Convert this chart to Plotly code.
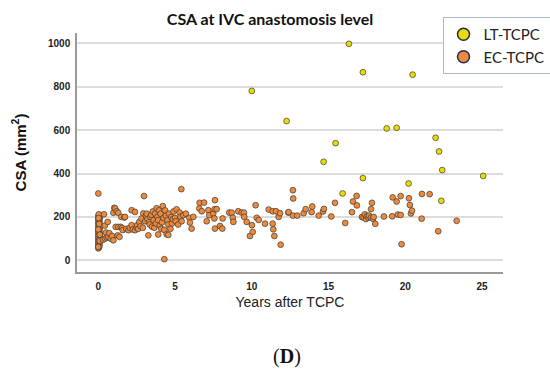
import plotly.graph_objects as go

# LT-TCPC (yellow) points: years after TCPC, CSA (mm^2)
lt_years = [10.0, 12.27, 16.33, 17.24, 20.48, 18.79, 19.44, 21.98, 15.46, 22.2,
            22.41, 25.08, 14.68, 17.24, 15.92, 20.22, 22.35]
lt_csa = [781, 642, 998, 867, 856, 608, 611, 565, 540, 502,
          416, 389, 454, 379, 308, 354, 274]

# EC-TCPC (orange) points as (years, CSA)
ec_points = [
    (0, 55), (0.05, 60), (0, 65), (0.08, 70), (0, 75), (0.04, 80), (0.1, 85), (0, 88),
    (0.06, 92), (0, 97), (0.12, 100), (0.03, 105), (0, 110), (0.07, 115), (0, 120),
    (0.1, 125), (0.02, 130), (0, 135), (0.05, 140), (0.09, 145), (0, 150), (0.04, 155),
    (0.11, 160), (0, 165), (0.06, 170), (0, 175), (0.08, 180), (0.02, 185), (0, 190),
    (0.1, 195), (0.05, 200), (0, 205), (0.07, 208), (0.03, 212), (0, 62), (0.09, 90),
    (0, 142), (0.05, 168), (0.1, 118), (0.02, 195), (0, 308),
    (0.3, 95), (0.37, 212), (0.42, 160), (0.44, 100), (0.5, 128), (0.55, 105), (0.61, 177),
    (0.65, 108), (0.72, 125), (0.8, 100), (0.9, 112), (0.98, 92), (0.98, 219), (1.04, 242),
    (1.1, 239), (1.13, 154), (1.2, 226), (1.26, 115), (1.3, 219), (1.3, 154), (1.38, 108),
    (1.46, 154), (1.5, 200), (1.55, 149), (1.59, 139), (1.69, 197), (1.74, 200), (1.82, 145),
    (1.96, 139), (2.05, 150), (2.17, 231), (2.17, 162), (2.25, 142), (2.39, 223), (2.39, 139),
    (2.5, 150), (2.54, 162), (2.6, 145), (2.67, 177), (2.75, 157), (2.82, 193), (2.9, 150),
    (2.93, 216), (2.98, 296),
    (3.05, 180), (3.1, 205), (3.15, 215), (3.2, 190), (3.26, 115), (3.3, 175), (3.35, 165),
    (3.4, 200), (3.45, 210), (3.5, 155), (3.55, 225), (3.6, 185), (3.65, 150), (3.7, 215),
    (3.75, 170), (3.8, 240), (3.85, 200), (3.9, 185), (3.9, 119), (3.95, 230), (4.0, 160),
    (4.05, 215), (4.1, 145), (4.15, 175), (4.2, 250), (4.25, 195), (4.3, 5), (4.3, 140),
    (4.35, 230), (4.4, 205), (4.45, 120), (4.5, 185), (4.56, 165), (4.56, 117), (4.6, 215),
    (4.7, 145), (4.75, 200), (4.8, 170), (4.85, 190), (4.9, 225), (5.0, 195), (5.05, 180),
    (5.1, 235), (5.2, 165), (5.3, 220), (5.35, 200), (5.41, 328), (5.43, 180), (5.54, 208),
    (5.7, 215),
    (5.93, 196), (5.97, 174), (6.08, 146), (6.19, 200), (6.58, 239), (6.6, 265), (6.74, 226),
    (6.89, 266), (7.06, 180), (7.17, 231), (7.23, 208), (7.49, 216), (7.56, 193), (7.58, 236),
    (7.6, 277), (7.6, 146), (7.71, 236), (7.93, 158), (8.08, 146), (8.1, 193), (8.53, 220),
    (8.69, 220), (8.76, 196), (8.8, 177), (9.12, 226), (9.34, 220), (9.49, 220), (9.51, 200),
    (9.67, 177), (9.88, 112), (10.01, 162), (10.06, 131), (10.25, 254), (10.32, 196),
    (10.45, 186),
    (10.86, 169), (11.1, 234), (11.36, 226), (11.36, 169), (11.4, 143), (11.47, 112),
    (11.58, 226), (11.75, 200), (11.84, 217), (11.88, 72), (12.38, 220), (12.4, 222),
    (12.68, 206), (12.96, 206), (12.68, 323), (12.7, 285), (13.38, 217), (13.51, 236),
    (13.9, 222), (13.94, 248), (14.36, 206), (14.64, 225), (14.7, 237), (15.18, 202),
    (15.42, 265), (16.09, 172), (16.53, 222), (16.59, 271), (16.83, 297), (16.85, 253),
    (17.18, 200), (17.29, 197), (17.37, 212), (17.44, 190), (17.5, 203), (17.6, 197),
    (17.64, 206), (17.77, 197), (17.77, 236), (17.83, 265), (17.9, 191), (17.94, 200),
    (18.05, 168), (18.61, 202), (19.15, 203),
    (19.18, 290), (19.44, 271), (19.7, 296), (19.76, 74), (19.52, 211), (19.7, 209),
    (20.24, 286), (20.3, 255), (20.37, 216), (20.44, 229), (21.07, 192), (21.09, 306),
    (21.59, 305), (22.15, 134), (23.35, 182),
]
ec_years = [p[0] for p in ec_points]
ec_csa = [p[1] for p in ec_points]

x_ticks = [0, 5, 10, 15, 20, 25]
y_ticks = [0, 200, 400, 600, 800, 1000]

YELLOW = "#E8DC00"
ORANGE = "#EF8A3A"
EDGE = "#3a3a3a"

fig = go.Figure()
fig.add_trace(go.Scatter(x=ec_years, y=ec_csa, mode="markers", showlegend=False,
                         marker=dict(size=5.8, color=ORANGE, line=dict(color=EDGE, width=0.7))))
fig.add_trace(go.Scatter(x=lt_years, y=lt_csa, mode="markers", showlegend=False,
                         marker=dict(size=5.8, color=YELLOW, line=dict(color=EDGE, width=0.7))))
# legend entries
fig.add_trace(go.Scatter(x=[None], y=[None], mode="markers", name="LT-TCPC",
                         marker=dict(size=12, color=YELLOW, line=dict(color="#1f2f55", width=1.5))))
fig.add_trace(go.Scatter(x=[None], y=[None], mode="markers", name="EC-TCPC",
                         marker=dict(size=12, color=ORANGE, line=dict(color="#1f2f55", width=1.5))))

fig.update_layout(
    width=550, height=372,
    margin=dict(l=77, r=47, t=33, b=100, autoexpand=False),
    paper_bgcolor="white", plot_bgcolor="white",
    title=dict(text="<b>CSA at IVC anastomosis level</b>", x=270 / 550, xanchor="center",
               y=1 - 19 / 372, yanchor="middle",
               font=dict(family="Lato", size=16, color="#111")),
    xaxis=dict(range=[-1.39, 26.37], tickvals=x_ticks, showgrid=False, zeroline=False,
               showline=True, linecolor="#9a9a9a", linewidth=1.5, ticks="", automargin=False,
               tickfont=dict(family="Liberation Sans", size=10, color="#222", weight="bold"),
               ticklabelstandoff=4,
               title=dict(text="Years after TCPC", standoff=6,
                          font=dict(family="Liberation Sans", size=14, color="#222"))),
    yaxis=dict(range=[-54, 1048], tickvals=y_ticks, showgrid=True, gridcolor="#dcdcdc",
               gridwidth=1.5, zeroline=False, showline=True, linecolor="#9a9a9a", linewidth=1.5,
               ticks="", automargin=False,
               tickfont=dict(family="Liberation Sans", size=10, color="#222", weight="bold"),
               ticklabelstandoff=3,
               title=dict(text="<b>CSA (mm<sup>2</sup>)</b>", standoff=18,
                          font=dict(family="Liberation Sans", size=15, color="#111"))),
    legend=dict(x=0.858, y=1.067, xanchor="left", yanchor="top",
                bordercolor="#a9b9c9", borderwidth=1, bgcolor="white",
                font=dict(family="Lato", size=15, color="#222"),
                itemsizing="trace", tracegroupgap=0),
    annotations=[dict(text="(<b>D</b>)", xref="paper", yref="paper",
                      x=(287 - 77) / 426, y=-(356 - 271.7) / 238.7,
                      xanchor="center", yanchor="middle", showarrow=False,
                      font=dict(family="Liberation Serif", size=20, color="#111"))],
)

fig.write_html("out.html", config={"displayModeBar": False},
               post_script="document.body.style.margin='0';document.body.style.padding='0';")
